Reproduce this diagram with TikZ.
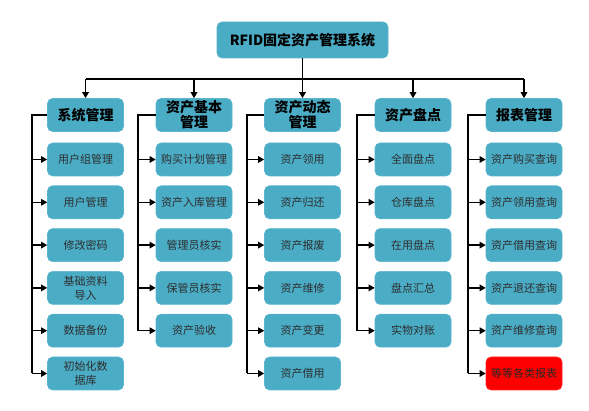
\documentclass[tikz,border=0pt]{standalone}
\usepackage{fontspec}
\setmainfont{Noto Sans CJK SC}
\usetikzlibrary{arrows.meta}
\definecolor{boxfill}{HTML}{4BACC6}
\definecolor{boxline}{HTML}{5BB5CC}
\definecolor{txtgray}{HTML}{2E2E2E}
\tikzset{
  basebox/.style={rounded corners=5pt, fill=boxfill, draw=boxline, line width=0.6pt, align=center, inner sep=0pt},
  topbox/.style={basebox, minimum width=171pt, minimum height=36pt, font=\fontsize{14}{16}\selectfont\bfseries},
  headbox/.style={basebox, minimum width=76pt, minimum height=33pt, font=\fontsize{14}{15}\selectfont\bfseries},
  itembox/.style={basebox, minimum width=76pt, minimum height=33pt, text=txtgray, font=\fontsize{11}{14}\selectfont},
  redbox/.style={itembox, fill=red, draw=red!85!white, text=black!85},
  conn/.style={line width=1.3pt, black},
  arr/.style={conn, -{Triangle[length=6pt,width=6.5pt]}}
}
\begin{document}
\begin{tikzpicture}[x=1pt,y=-1pt]
\useasboundingbox (0,0) rectangle (589,411);
% top
\node[topbox] (top) at (302.5,40) {RFID固定资产管理系统};
% headers
\node[headbox] (h1) at (85.5,115) {系统管理};
\node[headbox] (h2) at (194,115) {资产基本\\管理};
\node[headbox] (h3) at (302.5,115) {资产动态\\管理};
\node[headbox] (h4) at (413,115) {资产盘点};
\node[headbox] (h5) at (524,115) {报表管理};
% bus
\coordinate (busl) at (85.5,79);
\coordinate (busr) at (524,79);
\draw[conn] (top.south) -- (top.south |- busl);
\draw[conn] (busl) -- (busr);
\foreach \h in {h1,h2,h3,h4,h5}{
  \draw[arr] (\h.north |- busl) -- (\h.north);
}
% column 1
\node[itembox] (a1) at (85.5,159.5) {用户组管理};
\node[itembox] (a2) at (85.5,202.3) {用户管理};
\node[itembox] (a3) at (85.5,245.1) {修改密码};
\node[itembox] (a4) at (85.5,287.9) {基础资料\\导入};
\node[itembox] (a5) at (85.5,330.7) {数据备份};
\node[itembox] (a6) at (85.5,373.5) {初始化数\\据库};
% column 2
\node[itembox] (b1) at (194,159.5) {购买计划管理};
\node[itembox] (b2) at (194,202.3) {资产入库管理};
\node[itembox] (b3) at (194,245.1) {管理员核实};
\node[itembox] (b4) at (194,287.9) {保管员核实};
\node[itembox] (b5) at (194,330.7) {资产验收};
% column 3
\node[itembox] (c1) at (302.5,159.5) {资产领用};
\node[itembox] (c2) at (302.5,202.3) {资产归还};
\node[itembox] (c3) at (302.5,245.1) {资产报废};
\node[itembox] (c4) at (302.5,287.9) {资产维修};
\node[itembox] (c5) at (302.5,330.7) {资产变更};
\node[itembox] (c6) at (302.5,373.5) {资产借用};
% column 4
\node[itembox] (d1) at (413,159.5) {全面盘点};
\node[itembox] (d2) at (413,202.3) {仓库盘点};
\node[itembox] (d3) at (413,245.1) {在用盘点};
\node[itembox] (d4) at (413,287.9) {盘点汇总};
\node[itembox] (d5) at (413,330.7) {实物对账};
% column 5
\node[itembox] (e1) at (524,159.5) {资产购买查询};
\node[itembox] (e2) at (524,202.3) {资产领用查询};
\node[itembox] (e3) at (524,245.1) {资产借用查询};
\node[itembox] (e4) at (524,287.9) {资产退还查询};
\node[itembox] (e5) at (524,330.7) {资产维修查询};
\node[redbox] (e6) at (524,373.5) {等等各类报表};
% vertical rails
\coordinate (v1) at (32,115);
\coordinate (v2) at (138,115);
\coordinate (v3) at (247,115);
\coordinate (v4) at (357,115);
\coordinate (v5) at (468,115);
\draw[conn] (h1.west) -- (v1) -- (v1 |- a6.west);
\draw[conn] (h2.west) -- (v2) -- (v2 |- b5.west);
\draw[conn] (h3.west) -- (v3) -- (v3 |- c6.west);
\draw[conn] (h4.west) -- (v4) -- (v4 |- d5.west);
\draw[conn] (h5.west) -- (v5) -- (v5 |- e6.west);
\foreach \n in {a1,a2,a3,a4,a5,a6}{\draw[arr] (v1 |- \n.west) -- (\n.west);}
\foreach \n in {b1,b2,b3,b4,b5}{\draw[arr] (v2 |- \n.west) -- (\n.west);}
\foreach \n in {c1,c2,c3,c4,c5,c6}{\draw[arr] (v3 |- \n.west) -- (\n.west);}
\foreach \n in {d1,d2,d3,d4,d5}{\draw[arr] (v4 |- \n.west) -- (\n.west);}
\foreach \n in {e1,e2,e3,e4,e5,e6}{\draw[arr] (v5 |- \n.west) -- (\n.west);}
\end{tikzpicture}
\end{document}
